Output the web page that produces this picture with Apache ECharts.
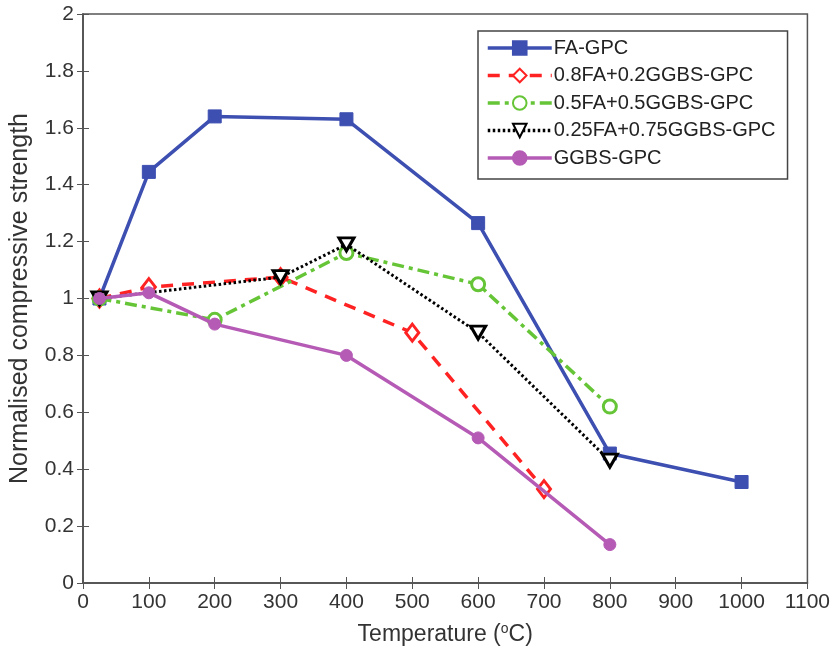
<!DOCTYPE html>
<html><head><meta charset="utf-8">
<script src="https://cdn.jsdelivr.net/npm/echarts@6/dist/echarts.min.js"></script>
<style>html,body{margin:0;padding:0;background:#fff}#c{width:833px;height:663px}</style>
</head><body><div id="c"></div>
<script>
const seriesNames = ['FA-GPC','0.8FA+0.2GGBS-GPC','0.5FA+0.5GGBS-GPC','0.25FA+0.75GGBS-GPC','GGBS-GPC'];
const faTemp = [25,100,200,400,600,800,1000];
const faVal  = [1.0,1.445,1.64,1.63,1.265,0.455,0.355];
const fa08Temp = [25,100,300,500,700];
const fa08Val  = [1.0,1.04,1.075,0.88,0.33];
const fa05Temp = [25,200,400,600,800];
const fa05Val  = [1.0,0.925,1.16,1.05,0.62];
const fa025Temp = [25,300,400,600,800];
const fa025Val  = [1.0,1.075,1.19,0.88,0.43];
const ggbsTemp = [25,100,200,400,600,800];
const ggbsVal  = [1.0,1.02,0.91,0.80,0.51,0.135];
const xTicks = [0,100,200,300,400,500,600,700,800,900,1000,1100];
const yTicks = [0,0.2,0.4,0.6,0.8,1,1.2,1.4,1.6,1.8,2];

const pair = (xs, ys) => xs.map((x,i)=>[x,ys[i]]);
const font = 'Liberation Sans, Arial, sans-serif';
const txt = '#333';

const chart = echarts.init(document.getElementById('c'));
chart.setOption({
  animation:false,
  backgroundColor:'#fff',
  textStyle:{fontFamily:font},
  grid:{left:82,right:25,top:14,bottom:80,show:true,borderColor:'#555',borderWidth:1.5,backgroundColor:'transparent'},
  legend:{
    data:seriesNames,
    orient:'vertical',
    left:478, top:31,
    backgroundColor:'#fff',
    borderColor:'#444', borderWidth:1.5, borderRadius:0,
    padding:[7,12,11,8],
    itemWidth:64, itemHeight:17, itemGap:7.5,
    lineStyle:{width:3.5},
    textStyle:{fontSize:20,color:'#222',fontFamily:font,padding:[0,0,0,-3]}
  },
  xAxis:[{
    type:'value', min:0, max:1100, interval:100,
    name:'Temperature ({sup|o}C)',
    nameLocation:'middle', nameGap:39,
    nameTextStyle:{fontSize:23,color:txt,fontFamily:font,
      rich:{sup:{fontSize:14,verticalAlign:'top',color:txt,padding:[0,0,12,0]}}},
    axisLine:{show:true,onZero:false,lineStyle:{color:'#555',width:1.5}},
    axisTick:{inside:true,length:6,lineStyle:{color:'#555'}},
    axisLabel:{fontSize:21,color:txt,margin:9,fontFamily:font,formatter:v=>xTicks.includes(v)?String(v):''},
    splitLine:{show:false}
  },{
    type:'value', min:0, max:1100, interval:100, position:'top',
    axisLine:{show:true,lineStyle:{color:'#555',width:1.5}},
    axisTick:{inside:true,length:6,lineStyle:{color:'#555'}},
    axisLabel:{show:false}, splitLine:{show:false}
  }],
  yAxis:[{
    type:'value', min:0, max:2, interval:0.2,
    name:'Normalised compressive strength',
    nameLocation:'middle', nameGap:50,
    nameTextStyle:{fontSize:25,color:txt,fontFamily:font},
    axisLine:{show:true,onZero:false,lineStyle:{color:'#555',width:1.5}},
    axisTick:{inside:true,length:6,lineStyle:{color:'#555'}},
    axisLabel:{fontSize:21,color:txt,margin:9,fontFamily:font,
      formatter:v=>{const t=yTicks.find(y=>Math.abs(y-v)<1e-6);return t===undefined?'':String(t);}},
    splitLine:{show:false}
  },{
    type:'value', min:0, max:2, interval:0.2, position:'right',
    axisLine:{show:true,lineStyle:{color:'#555',width:1.5}},
    axisTick:{inside:true,length:6,lineStyle:{color:'#555'}},
    axisLabel:{show:false}, splitLine:{show:false}
  }],
  series:[
    {name:seriesNames[0],type:'line',data:pair(faTemp,faVal),
     symbol:'rect',symbolSize:13,
     lineStyle:{color:'#3d4fb1',width:3.5},
     itemStyle:{color:'#3d4fb1',borderColor:'#3d4fb1',borderWidth:1},z:3},
    {name:seriesNames[1],type:'line',data:pair(fa08Temp,fa08Val),
     symbol:'diamond',symbolSize:[13,17],
     lineStyle:{color:'#ff2222',width:3.5,type:[12,9]},
     itemStyle:{color:'#fff',borderColor:'#ff2222',borderWidth:3},z:4},
    {name:seriesNames[2],type:'line',data:pair(fa05Temp,fa05Val),
     symbol:'circle',symbolSize:13,
     lineStyle:{color:'#66c537',width:3.5,type:[12,5,4,5]},
     itemStyle:{color:'#fff',borderColor:'#66c537',borderWidth:3},z:5},
    {name:seriesNames[3],type:'line',data:pair(fa025Temp,fa025Val),
     symbol:'triangle',symbolRotate:180,symbolSize:[15,13],
     lineStyle:{color:'#000',width:3,type:[2.5,2.5]},
     itemStyle:{color:'#fff',borderColor:'#000',borderWidth:3},z:6},
    {name:seriesNames[4],type:'line',data:pair(ggbsTemp,ggbsVal),
     symbol:'circle',symbolSize:12,
     lineStyle:{color:'#b55bb5',width:3.5},
     itemStyle:{color:'#b55bb5',borderColor:'#b55bb5',borderWidth:1},z:7}
  ]
});
</script></body></html>
